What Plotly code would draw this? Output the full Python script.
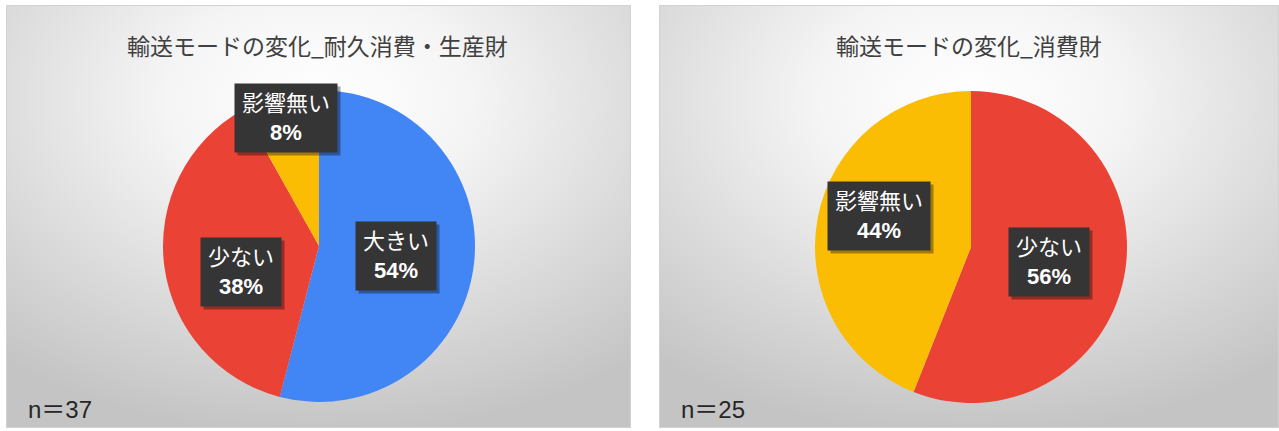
import base64
import math
import plotly.graph_objects as go

# ---- data -------------------------------------------------------------
titles = ["輸送モードの変化_耐久消費・生産財", "輸送モードの変化_消費財"]

labels_durable = ["大きい", "少ない", "影響無い"]
counts_durable = [20, 14, 3]

labels_consumer = ["少ない", "影響無い"]
counts_consumer = [14, 11]

colour_map = {"大きい": "#4285F4", "少ない": "#EA4335", "影響無い": "#FBBC04"}

# ---- canvas geometry --------------------------------------------------
W, H = 1279, 431
panels = [(6, 5, 631, 428), (659, 5, 1279, 428)]        # x0, y0, x1, y1 in px
pie_boxes = [(163, 90, 475, 402), (815, 91, 1127, 403)]  # pie bounding boxes in px
# label placement per slice: (share of radius, angular nudge in degrees)
label_place = [
    {"大きい": (0.50, 0), "少ない": (0.53, -11), "影響無い": (0.85, 0)},
    {"少ない": (0.51, 0), "影響無い": (0.62, 8)},
]
LABEL_FONT = "Liberation Sans, Noto Sans CJK JP"


def px_x(x):
    return x / W


def px_y(y):
    return 1 - y / H


def panel_background(w, h):
    svg = (
        f"<svg xmlns='http://www.w3.org/2000/svg' width='{w}' height='{h}' "
        f"viewBox='0 0 {w} {h}' preserveAspectRatio='none'>"
        "<defs><radialGradient id='g' cx='50%' cy='22%' r='80%'>"
        "<stop offset='0' stop-color='#ffffff'/>"
        "<stop offset='0.3' stop-color='#f5f5f5'/>"
        "<stop offset='0.65' stop-color='#dcdcdc'/>"
        "<stop offset='1' stop-color='#c4c4c4'/>"
        "</radialGradient></defs>"
        f"<rect x='0' y='0' width='{w}' height='{h}' fill='url(#g)'/>"
        f"<rect x='0.5' y='0.5' width='{w-1}' height='{h-1}' fill='none' "
        "stroke='#d2d2d2' stroke-width='1'/>"
        "</svg>"
    )
    return "data:image/svg+xml;base64," + base64.b64encode(svg.encode()).decode()


fig = go.Figure()
images = []
annotations = []

datasets = [(labels_durable, counts_durable), (labels_consumer, counts_consumer)]
totals = [sum(counts_durable), sum(counts_consumer)]

for i, ((labels, counts), (x0, y0, x1, y1), (bx0, by0, bx1, by1)) in enumerate(
    zip(datasets, panels, pie_boxes)
):
    images.append(dict(
        source=panel_background(x1 - x0, y1 - y0),
        xref="paper", yref="paper",
        x=px_x(x0), y=px_y(y0),
        sizex=(x1 - x0) / W, sizey=(y1 - y0) / H,
        sizing="stretch", xanchor="left", yanchor="top", layer="below",
    ))

    fig.add_trace(go.Pie(
        labels=labels,
        values=counts,
        sort=False,
        direction="clockwise",
        rotation=0,
        marker=dict(colors=[colour_map[l] for l in labels],
                    line=dict(width=0)),
        textinfo="none",
        hoverinfo="label+percent",
        showlegend=False,
        domain=dict(x=[px_x(bx0), px_x(bx1)], y=[px_y(by1), px_y(by0)]),
    ))

    cx, cy = (bx0 + bx1) / 2, (by0 + by1) / 2
    r = (bx1 - bx0) / 2

    # chart title
    annotations.append(dict(
        text=titles[i], x=px_x(cx - 2), y=px_y(45), xref="paper", yref="paper",
        showarrow=False, xanchor="center", yanchor="middle",
        font=dict(family="Noto Sans CJK JP", size=23, color="#404040"),
    ))

    # sample size
    annotations.append(dict(
        text=f"n＝{totals[i]}", x=px_x(x0 + 20), y=px_y(409),
        xref="paper", yref="paper", showarrow=False,
        xanchor="left", yanchor="middle",
        font=dict(family=LABEL_FONT, size=24, color="#262626"),
    ))

    # data labels placed along each slice's mid-angle
    total = sum(counts)
    cum = 0
    for lab, v in zip(labels, counts):
        mid = (cum + v / 2) / total
        cum += v
        share, nudge = label_place[i][lab]
        ang = 2 * math.pi * mid + math.radians(nudge)
        k = share * r
        lx = cx + k * math.sin(ang)
        ly = cy - k * math.cos(ang)
        pct = round(100 * v / total)
        common = dict(
            x=px_x(lx), y=px_y(ly), xref="paper", yref="paper",
            showarrow=False, xanchor="center", yanchor="middle",
            borderpad=7,
        )
        # drop shadow: same-sized blank box, offset down-right
        blank = "\u3000" * len(lab) + "<br>\u3000"
        annotations.append(dict(
            text=blank, xshift=3, yshift=-3, bgcolor="rgba(0,0,0,0.35)",
            font=dict(family=LABEL_FONT, size=22, color="rgba(0,0,0,0)"),
            **common,
        ))
        annotations.append(dict(
            text=f"{lab}<br><b>{pct}%</b>", bgcolor="#353535",
            font=dict(family=LABEL_FONT, size=22, color="#ffffff"),
            **common,
        ))

fig.update_layout(
    width=W, height=H,
    margin=dict(l=0, r=0, t=0, b=0),
    paper_bgcolor="#ffffff",
    plot_bgcolor="#ffffff",
    images=images,
    annotations=annotations,
)

fig.write_html("out.html", config={"displayModeBar": False})
